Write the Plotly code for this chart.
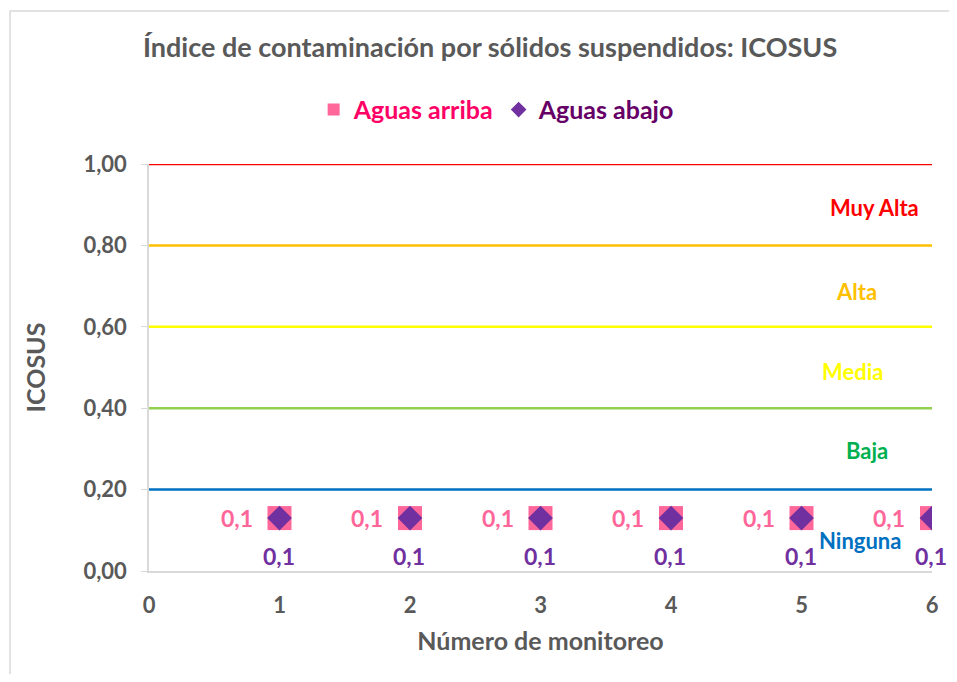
import plotly.graph_objects as go

monitoreo = [1, 2, 3, 4, 5, 6]
aguas_arriba = [0.13, 0.13, 0.13, 0.13, 0.13, 0.13]
aguas_abajo = [0.13, 0.13, 0.13, 0.13, 0.13, 0.13]
etiquetas_arriba = ["0,1"] * 6
etiquetas_abajo = ["0,1"] * 6

niveles = [0.2, 0.4, 0.6, 0.8, 1.0]
colores_niveles = ["#0070C0", "#92D050", "#FFFF00", "#FFC000", "#FF0000"]
categorias = ["Ninguna", "Baja", "Media", "Alta", "Muy Alta"]
cat_x = [5.45, 5.5, 5.39, 5.42, 5.56]
cat_y = [0.074, 0.297, 0.489, 0.686, 0.892]
cat_colores = ["#0070C0", "#00B050", "#FFFF00", "#FFC000", "#FF0000"]

y_ticks = [0, 0.2, 0.4, 0.6, 0.8, 1.0]
y_ticktext = ["0,00", "0,20", "0,40", "0,60", "0,80", "1,00"]
x_ticks = [0, 1, 2, 3, 4, 5, 6]

FONT = "Lato"
GRAY = "#595959"

fig = go.Figure()

for lvl, col in zip(niveles, colores_niveles):
    fig.add_trace(go.Scatter(x=[0, 6], y=[lvl, lvl], mode="lines",
                             line=dict(color=col, width=2.5),
                             showlegend=False, hoverinfo="skip"))

fig.add_trace(go.Scatter(x=monitoreo, y=aguas_arriba, mode="markers",
                         name="<span style='color:#FF0066'>Aguas arriba</span>",
                         marker=dict(symbol="square", size=24, color="#FF6699")))
fig.add_trace(go.Scatter(x=monitoreo, y=aguas_abajo, mode="markers",
                         name="<span style='color:#660066'>Aguas abajo</span>",
                         marker=dict(symbol="diamond", size=19, color="#7030A0")))

annotations = []
for x, y, t in zip(monitoreo, aguas_arriba, etiquetas_arriba):
    annotations.append(dict(x=x, y=y, text=t, showarrow=False, xshift=-43,
                            font=dict(family=FONT, size=23, color="#FF6699", weight="bold")))
for x, y, t in zip(monitoreo, aguas_abajo, etiquetas_abajo):
    annotations.append(dict(x=x, y=y, text=t, showarrow=False, yshift=-38, xshift=-1,
                            font=dict(family=FONT, size=23, color="#7030A0", weight="bold")))
for x, y, t, c in zip(cat_x, cat_y, categorias, cat_colores):
    annotations.append(dict(x=x, y=y, text=t, showarrow=False,
                            font=dict(family=FONT, size=22, color=c, weight="bold")))

fig.update_layout(
    width=949, height=666,
    paper_bgcolor="white", plot_bgcolor="white",
    margin=dict(l=141, r=25, t=156, b=103),
    title=dict(text="Índice de contaminación por sólidos suspendidos: ICOSUS",
               x=0.508, xanchor="center", y=1 - 40 / 666, yanchor="middle",
               font=dict(family=FONT, size=27, color=GRAY, weight="bold")),
    legend=dict(orientation="h", x=0.444, xanchor="center", y=1.133, yanchor="middle",
                font=dict(family=FONT, size=25, weight="bold"),
                itemsizing="constant", itemwidth=30),
    xaxis=dict(range=[0, 6], tickvals=x_ticks, showgrid=False, zeroline=False,
               showline=True, linecolor="#D9D9D9", linewidth=1.5, ticks="",
               ticklabelstandoff=14, automargin=False,
               tickfont=dict(family=FONT, size=22, color=GRAY, weight="bold"),
               title=dict(text="Número de monitoreo", standoff=15,
                          font=dict(family=FONT, size=25, color=GRAY, weight="bold"))),
    yaxis=dict(range=[0, 1.0], tickvals=y_ticks, ticktext=y_ticktext, showgrid=False,
               zeroline=False, showline=True, linecolor="#D9D9D9", linewidth=1.5,
               ticks="outside", ticklen=6, tickcolor="#D9D9D9", ticklabelstandoff=10,
               automargin=False,
               tickfont=dict(family=FONT, size=22, color=GRAY, weight="bold"),
               title=dict(text="ICOSUS", standoff=31,
                          font=dict(family=FONT, size=25, color=GRAY, weight="bold"))),
    annotations=annotations,
    shapes=[dict(type="rect", xref="paper", yref="paper", x0=-0.1775, x1=1.05,
                 y0=-0.5, y1=1.376, line=dict(color="#D9D9D9", width=1.5),
                 fillcolor="rgba(0,0,0,0)", layer="below")],
)

fig.write_html("out.html")
